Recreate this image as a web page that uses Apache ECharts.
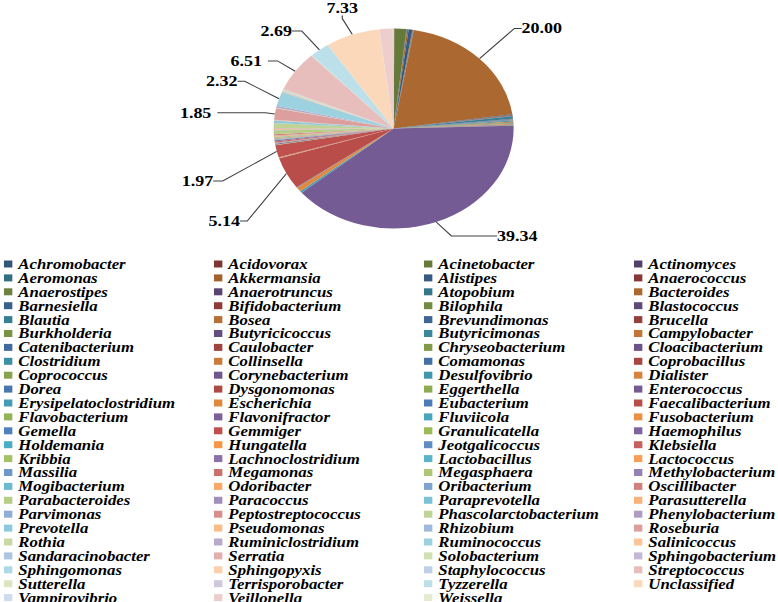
<!DOCTYPE html>
<html>
<head>
<meta charset="utf-8">
<title>Genus composition</title>
<script src="https://cdn.jsdelivr.net/npm/echarts@6/dist/echarts.min.js"></script>
<style>
  html, body { margin: 0; padding: 0; background: #fff; overflow: hidden; }
  /* the original figure is stretched sideways, so the chart is drawn narrow and widened */
  #chart { width: 648px; height: 602px; transform: scaleX(1.2); transform-origin: 0 0; }
</style>
</head>
<body>
<div id="chart"></div>
<script>
// genera, in legend order (= slice order, clockwise from 12 o'clock)
var genera = [
  'Achromobacter', 'Acidovorax', 'Acinetobacter', 'Actinomyces',
  'Aeromonas', 'Akkermansia', 'Alistipes', 'Anaerococcus',
  'Anaerostipes', 'Anaerotruncus', 'Atopobium', 'Bacteroides',
  'Barnesiella', 'Bifidobacterium', 'Bilophila', 'Blastococcus',
  'Blautia', 'Bosea', 'Brevundimonas', 'Brucella',
  'Burkholderia', 'Butyricicoccus', 'Butyricimonas', 'Campylobacter',
  'Catenibacterium', 'Caulobacter', 'Chryseobacterium', 'Cloacibacterium',
  'Clostridium', 'Collinsella', 'Comamonas', 'Coprobacillus',
  'Coprococcus', 'Corynebacterium', 'Desulfovibrio', 'Dialister',
  'Dorea', 'Dysgonomonas', 'Eggerthella', 'Enterococcus',
  'Erysipelatoclostridium', 'Escherichia', 'Eubacterium', 'Faecalibacterium',
  'Flavobacterium', 'Flavonifractor', 'Fluviicola', 'Fusobacterium',
  'Gemella', 'Gemmiger', 'Granulicatella', 'Haemophilus',
  'Holdemania', 'Hungatella', 'Jeotgalicoccus', 'Klebsiella',
  'Kribbia', 'Lachnoclostridium', 'Lactobacillus', 'Lactococcus',
  'Massilia', 'Megamonas', 'Megasphaera', 'Methylobacterium',
  'Mogibacterium', 'Odoribacter', 'Oribacterium', 'Oscillibacter',
  'Parabacteroides', 'Paracoccus', 'Paraprevotella', 'Parasutterella',
  'Parvimonas', 'Peptostreptococcus', 'Phascolarctobacterium', 'Phenylobacterium',
  'Prevotella', 'Pseudomonas', 'Rhizobium', 'Roseburia',
  'Rothia', 'Ruminiclostridium', 'Ruminococcus', 'Salinicoccus',
  'Sandaracinobacter', 'Serratia', 'Solobacterium', 'Sphingobacterium',
  'Sphingomonas', 'Sphingopyxis', 'Staphylococcus', 'Streptococcus',
  'Sutterella', 'Terrisporobacter', 'Tyzzerella', 'Unclassified',
  'Vampirovibrio', 'Veillonella', 'Weissella'
];

// relative abundance (%), same order as genera
var abundance = [
  0.05, 0.05, 1.6, 0.05,
  0.05, 0.2, 0.5, 0.05,
  0.05, 0.05, 0.05, 20.00,
  0.15, 0.1, 0.05, 0.02,
  0.4, 0.02, 0.02, 0.02,
  0.02, 0.05, 0.05, 0.02,
  0.05, 0.02, 0.02, 0.02,
  0.15, 0.15, 0.02, 0.05,
  0.1, 0.02, 0.05, 0.1,
  0.1, 0.02, 0.05, 39.34,
  0.3, 0.7, 0.1, 5.14,
  0.02, 0.02, 0.02, 0.1,
  0.05, 1.97, 0.1, 0.15,
  0.05, 0.05, 0.05, 0.2,
  0.02, 0.2, 0.1, 0.1,
  0.02, 0.1, 0.15, 0.02,
  0.05, 0.15, 0.05, 0.2,
  0.6, 0.02, 0.1, 0.1,
  0.05, 0.1, 0.8, 0.02,
  0.4, 0.1, 0.02, 1.85,
  0.1, 0.3, 2.32, 0.02,
  0.02, 0.1, 0.2, 0.02,
  0.05, 0.02, 0.05, 6.51,
  0.05, 0.05, 2.69, 7.33,
  0.02, 1.8, 0.1
];

// leader line lengths [first leg, horizontal leg]; these slices carry a value label
var leaderLengths = {
  Bacteroides: [42, 6],
  Enterococcus: [16, 38],
  Faecalibacterium: [50, 6],
  Gemmiger: [38, 8],
  Roseburia: [8, 40],
  Ruminococcus: [32, 6],
  Streptococcus: [18, 8],
  Tyzzerella: [24, 8],
  Unclassified: [24, 3]
};

// small nudges [dx, dy] of some labels away from their default spot
var labelNudge = {
  Bacteroides: [-6, -1],
  Enterococcus: [2, -1],
  Faecalibacterium: [17, 25],
  Gemmiger: [-3, 21],
  Ruminococcus: [7, -8],
  Tyzzerella: [5, 0],
  Unclassified: [21, -4]
};

// office 2007 accents, cycled; each round gets a bit lighter (dark -> base -> tint)
var accents = ['#4F81BD', '#C0504D', '#9BBB59', '#8064A2', '#4BACC6', '#F79646'];

function seriesColor(i) {
  var hex = accents[i % 6];
  var g = Math.floor(i / 6);
  var rgb = [1, 3, 5].map(function (k) { return parseInt(hex.substr(k, 2), 16); });
  rgb = rgb.map(function (c) {
    if (g < 8) return Math.round(c * (0.65 + 0.044 * g));
    var t = (g - 8) * 0.09;
    return Math.round(c + (255 - c) * t);
  });
  return 'rgb(' + rgb.join(',') + ')';
}

var pieData = genera.map(function (name, i) {
  var item = {
    name: name,
    value: abundance[i],
    itemStyle: { color: seriesColor(i) }
  };
  if (leaderLengths[name]) {
    item.label = { show: true };
    item.labelLine = { show: true, length: leaderLengths[name][0], length2: leaderLengths[name][1] };
  }
  return item;
});

// legend in four columns, filled row by row like the original
var colLeft = [3.3, 178.3, 353.3, 528.3];
var legends = colLeft.map(function (left, c) {
  return {
    data: genera.filter(function (n, i) { return i % 4 === c; }),
    orient: 'vertical',
    left: left,
    top: 257,
    height: 380,
    padding: 0,
    itemGap: -0.1,
    itemWidth: 7,
    itemHeight: 7,
    icon: 'rect',
    selectedMode: false,
    textStyle: {
      fontFamily: 'Liberation Serif',
      fontStyle: 'italic',
      fontWeight: 'bold',
      fontSize: 14,
      color: '#000'
    }
  };
});

var chart = echarts.init(document.getElementById('chart'), null, { renderer: 'svg' });

chart.setOption({
  animation: false,
  color: genera.map(function (n, i) { return seriesColor(i); }),
  legend: legends,
  series: [{
    name: 'Genus',
    type: 'pie',
    center: [328, 128.5],
    radius: [0, 100],
    startAngle: 90,
    clockwise: true,
    label: {
      show: false,
      position: 'outside',
      fontFamily: 'Liberation Serif',
      fontWeight: 'bold',
      fontSize: 15,
      color: '#000',
      formatter: function (p) { return p.value.toFixed(2); }
    },
    labelLine: {
      show: false,
      length: 18,
      length2: 10,
      lineStyle: { color: '#404040', width: 1 }
    },
    labelLayout: function (p) {
      var nudge = labelNudge[genera[p.dataIndex]];
      if (!nudge) return {};
      var r = p.labelRect;
      var x = p.align === 'right' ? r.x + r.width : (p.align === 'center' ? r.x + r.width / 2 : r.x);
      return { x: x + nudge[0], y: r.y + r.height / 2 + nudge[1] };
    },
    itemStyle: { borderWidth: 0 },
    emphasis: { disabled: true },
    data: pieData
  }]
});
</script>
</body>
</html>
